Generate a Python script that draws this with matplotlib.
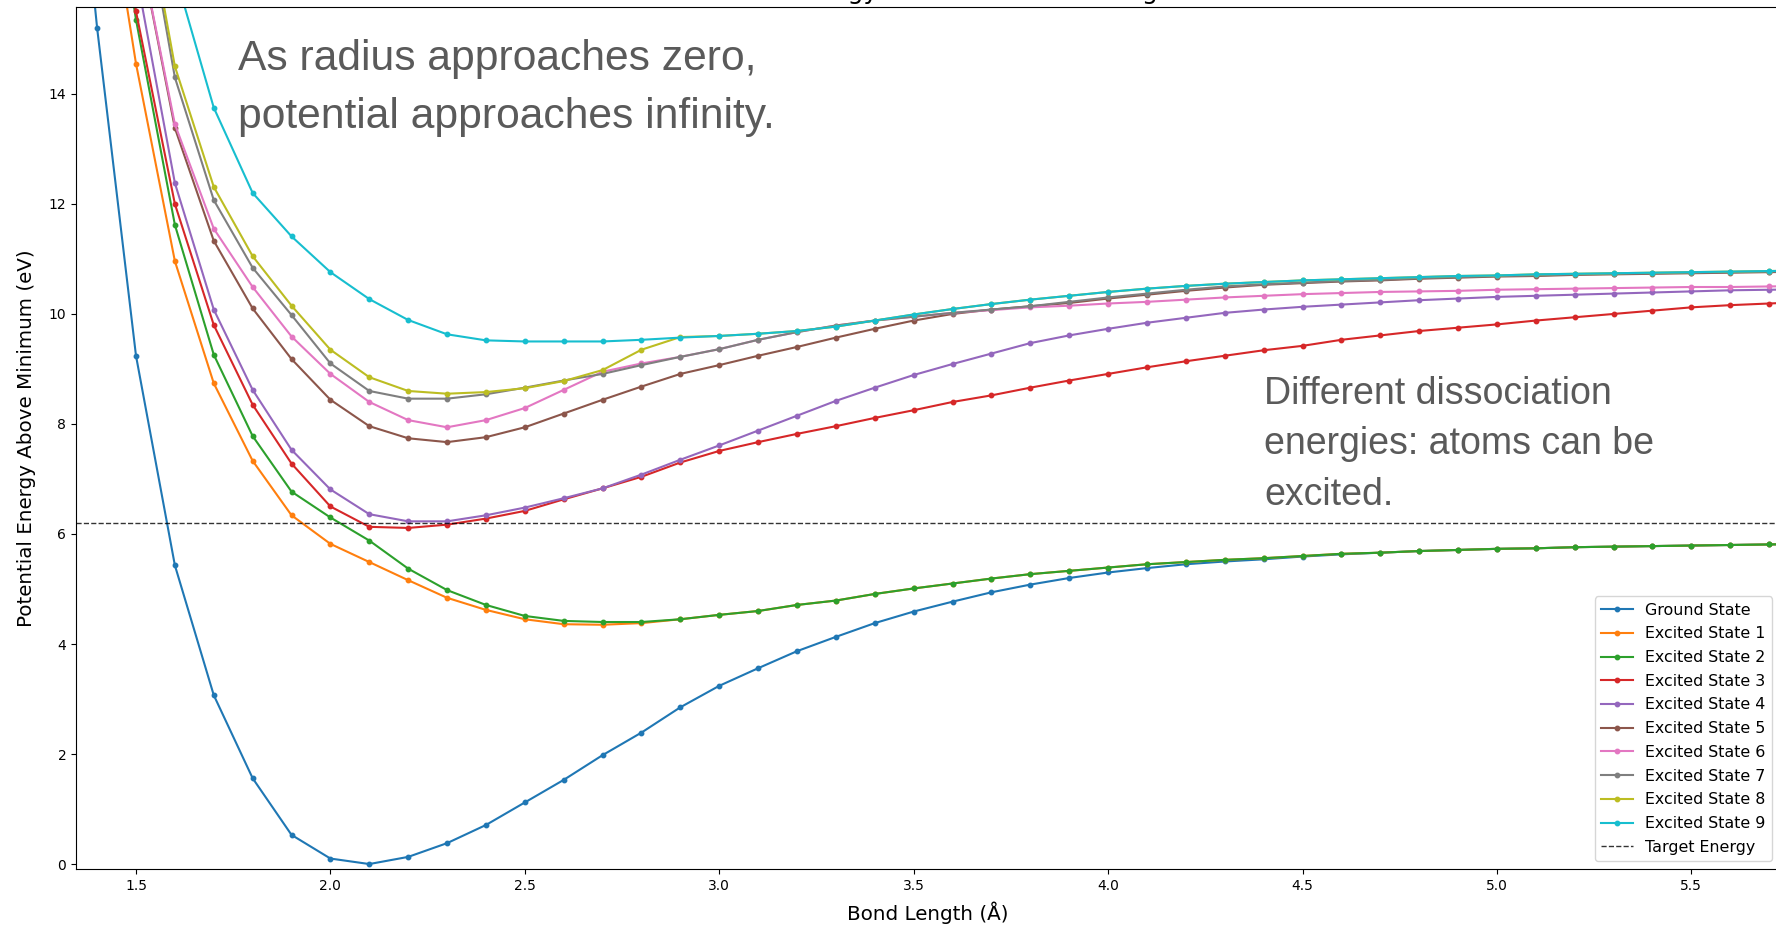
import numpy as np
import matplotlib
matplotlib.use("Agg")
import matplotlib.pyplot as plt

# 1. Data (energies in eV above the ground-state minimum)
bond_length = np.round(np.arange(1.3, 5.85, 0.1), 1)  # 1.3 ... 5.8 Angstrom

ground = [22.2, 15.2, 9.24, 5.43, 3.07, 1.56, 0.53, 0.10, 0.0, 0.13, 0.38, 0.71,
          1.12, 1.53, 1.98, 2.39, 2.85, 3.24, 3.56, 3.87, 4.13, 4.38, 4.59, 4.77,
          4.94, 5.08, 5.20, 5.30, 5.38, 5.45, 5.50, 5.54, 5.59, 5.63, 5.66, 5.69,
          5.71, 5.73, 5.74, 5.76, 5.77, 5.78, 5.79, 5.80, 5.81, 5.82]
excited_1 = [25.0, 19.0, 14.55, 10.96, 8.74, 7.33, 6.34, 5.82, 5.49, 5.16, 4.84, 4.62,
             4.45, 4.36, 4.35, 4.38, 4.45, 4.53, 4.60, 4.71, 4.79, 4.91, 5.01, 5.10,
             5.19, 5.27, 5.33, 5.39, 5.45, 5.49, 5.53, 5.56, 5.60, 5.64, 5.66, 5.69,
             5.71, 5.73, 5.74, 5.76, 5.77, 5.78, 5.79, 5.80, 5.81, 5.82]
excited_2 = [25.5, 20.0, 15.35, 11.62, 9.26, 7.78, 6.77, 6.30, 5.88, 5.37, 4.98, 4.71,
             4.51, 4.42, 4.40, 4.40, 4.45, 4.53, 4.60, 4.71, 4.79, 4.91, 5.01, 5.10,
             5.19, 5.27, 5.33, 5.39, 5.45, 5.49, 5.53, 5.56, 5.60, 5.64, 5.66, 5.69,
             5.71, 5.73, 5.74, 5.76, 5.77, 5.78, 5.79, 5.80, 5.81, 5.82]
excited_3 = [26.0, 20.5, 15.5, 12.0, 9.80, 8.35, 7.28, 6.50, 6.13, 6.11, 6.17, 6.28,
             6.42, 6.63, 6.83, 7.04, 7.30, 7.51, 7.67, 7.82, 7.96, 8.11, 8.25, 8.40,
             8.52, 8.66, 8.79, 8.91, 9.03, 9.14, 9.24, 9.34, 9.42, 9.53, 9.61, 9.69,
             9.75, 9.81, 9.88, 9.94, 10.00, 10.06, 10.12, 10.16, 10.19, 10.22]
excited_4 = [26.0, 20.5, 16.2, 12.38, 10.08, 8.62, 7.53, 6.81, 6.36, 6.23, 6.23, 6.34,
             6.48, 6.65, 6.83, 7.08, 7.35, 7.61, 7.88, 8.15, 8.42, 8.66, 8.89, 9.09,
             9.28, 9.47, 9.61, 9.73, 9.84, 9.93, 10.02, 10.08, 10.13, 10.17, 10.21, 10.25,
             10.28, 10.31, 10.33, 10.35, 10.37, 10.39, 10.41, 10.43, 10.44, 10.45]
excited_5 = [26.5, 21.0, 17.0, 13.38, 11.33, 10.10, 9.18, 8.44, 7.96, 7.74, 7.67, 7.76,
             7.94, 8.19, 8.44, 8.68, 8.91, 9.07, 9.24, 9.40, 9.57, 9.73, 9.88, 10.00,
             10.08, 10.14, 10.20, 10.28, 10.35, 10.42, 10.48, 10.53, 10.56, 10.59, 10.61, 10.64,
             10.66, 10.68, 10.69, 10.71, 10.72, 10.73, 10.74, 10.75, 10.76, 10.77]
excited_6 = [26.5, 21.0, 17.0, 13.45, 11.55, 10.49, 9.59, 8.91, 8.40, 8.07, 7.94, 8.07,
             8.29, 8.62, 8.95, 9.10, 9.22, 9.36, 9.53, 9.67, 9.79, 9.88, 9.95, 10.02,
             10.07, 10.12, 10.15, 10.19, 10.22, 10.26, 10.30, 10.33, 10.36, 10.38, 10.40, 10.41,
             10.42, 10.44, 10.45, 10.46, 10.47, 10.48, 10.49, 10.49, 10.50, 10.51]
excited_7 = [27.0, 22.0, 18.3, 14.30, 12.07, 10.84, 9.98, 9.10, 8.60, 8.46, 8.46, 8.54,
             8.66, 8.79, 8.91, 9.07, 9.22, 9.36, 9.53, 9.67, 9.79, 9.88, 9.95, 10.02,
             10.08, 10.14, 10.22, 10.30, 10.37, 10.44, 10.50, 10.54, 10.57, 10.60, 10.62, 10.65,
             10.67, 10.69, 10.70, 10.72, 10.73, 10.74, 10.75, 10.76, 10.77, 10.78]
excited_8 = [27.0, 22.0, 18.4, 14.50, 12.31, 11.05, 10.15, 9.35, 8.85, 8.60, 8.55, 8.58,
             8.65, 8.78, 8.98, 9.35, 9.58, 9.60, 9.64, 9.69, 9.77, 9.88, 9.99, 10.09,
             10.18, 10.26, 10.33, 10.40, 10.46, 10.51, 10.55, 10.58, 10.61, 10.63, 10.65, 10.67,
             10.69, 10.70, 10.72, 10.73, 10.74, 10.75, 10.76, 10.77, 10.78, 10.79]
excited_9 = [28.0, 23.0, 19.5, 16.20, 13.75, 12.20, 11.41, 10.76, 10.27, 9.89, 9.63, 9.52,
             9.50, 9.50, 9.50, 9.53, 9.57, 9.60, 9.64, 9.69, 9.77, 9.88, 9.99, 10.09,
             10.18, 10.26, 10.33, 10.40, 10.46, 10.51, 10.55, 10.58, 10.61, 10.63, 10.65, 10.67,
             10.69, 10.70, 10.72, 10.73, 10.74, 10.75, 10.76, 10.77, 10.78, 10.79]

states = [ground, excited_1, excited_2, excited_3, excited_4,
          excited_5, excited_6, excited_7, excited_8, excited_9]
state_labels = ["Ground State"] + [f"Excited State {i}" for i in range(1, 10)]
target_energy = 6.2

x_ticks = [1.5, 2.0, 2.5, 3.0, 3.5, 4.0, 4.5, 5.0, 5.5]
y_ticks = [0, 2, 4, 6, 8, 10, 12, 14]

note_1 = ["As radius approaches zero,", "potential approaches infinity."]
note_2 = ["Different dissociation", "energies: atoms can be", "excited."]

# 2. Figure: the reference is a cropped screenshot, so the axes run past the right edge
W, H = 1776, 925
fig = plt.figure(figsize=(W / 100, H / 100), dpi=100)
ax = fig.add_axes([76 / W, (H - 869) / H, (1780 - 76) / W, (869 - 7) / H])

for values, label in zip(states, state_labels):
    ax.plot(bond_length, values, marker='o', markersize=3.2, linewidth=1.5, label=label)
ax.axhline(target_energy, color='black', linestyle='--', linewidth=1.0, alpha=0.8,
           label="Target Energy")

ax.set_xlim(1.3457, 5.728)
ax.set_ylim(-0.09, 15.58)
ax.set_xticks(x_ticks)
ax.set_yticks(y_ticks)
ax.tick_params(labelsize=10)
ax.set_xlabel("Bond Length (Å)", fontsize=14.3, labelpad=6)
ax.set_ylabel("Potential Energy Above Minimum (eV)", fontsize=14.3, labelpad=9)
ax.set_title("Potential Energy Curves vs. Bond Length", fontsize=18)
ax.legend(loc='lower right', fontsize=11.4, labelspacing=0.55)

# 3. Slide annotations (one baseline per line, in pixels from the top)
def put_lines(lines, x_px, baselines, size):
    for text, y_px in zip(lines, baselines):
        fig.text(x_px / W, 1 - y_px / H, text, fontsize=size, color='#5a5a5a',
                 family='Liberation Sans', va='baseline', ha='left')

put_lines(note_1, 238, [70, 128], 30.7)
put_lines(note_2, 1264, [404, 454, 505], 27)

fig.savefig("out.png", dpi=100)
